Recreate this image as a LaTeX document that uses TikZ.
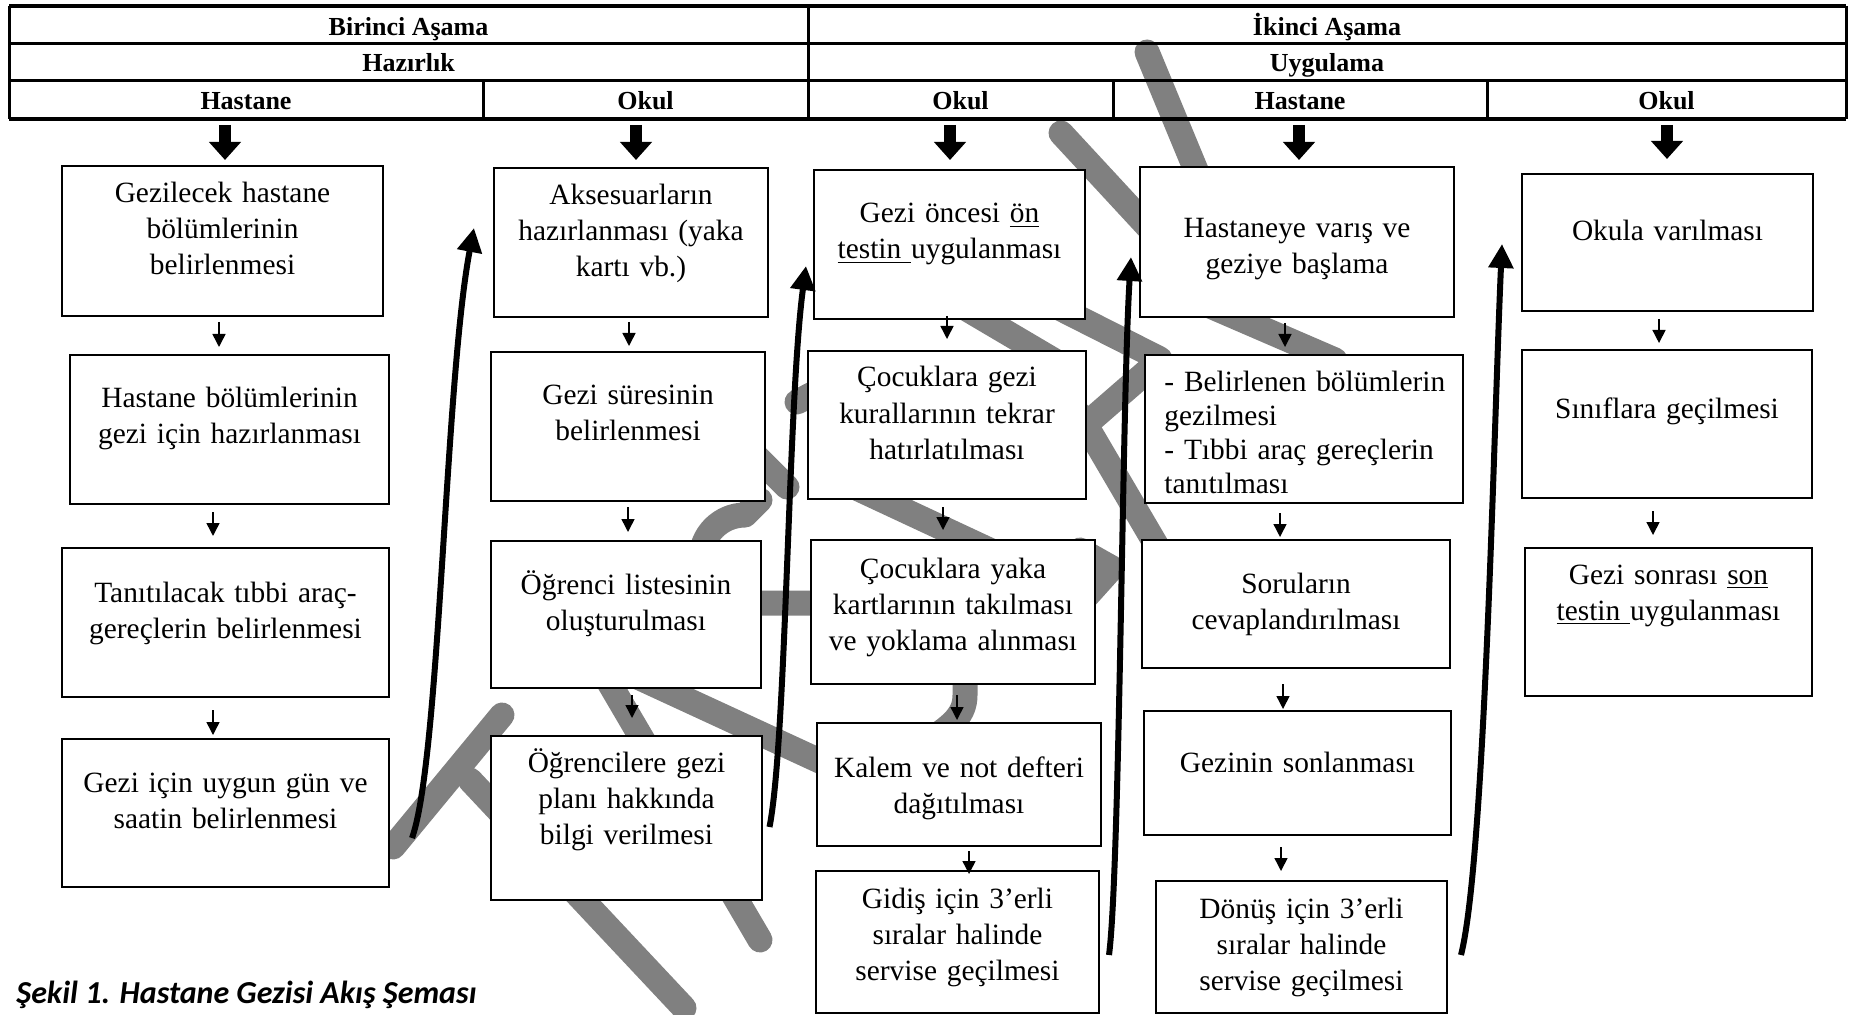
\documentclass[tikz,border=0pt]{standalone}
\usepackage{fontspec}
\setmainfont{Liberation Serif}
\newfontfamily\capfont{Carlito}
\usetikzlibrary{arrows.meta,calc}
\tikzset{
  wm/.style={draw=gray, line width=12.5pt, line cap=round, line join=round},
  hline/.style={line width=1.5pt},
  hthick/.style={line width=2pt},
  box/.style={draw, fill=white, line width=1.1pt, inner sep=0pt, outer sep=0pt, anchor=north west},
  txt/.style={inner sep=0pt, align=center, font=\fontsize{14.7pt}{18pt}\selectfont, anchor=base},
  htxt/.style={inner sep=0pt, anchor=base, font=\fontsize{13pt}{15pt}\selectfont\bfseries},
  sarr/.style={line width=0.75pt, -{Triangle[length=6.5pt,width=6.5pt]}},
  carr/.style={line width=3pt, -{Triangle[length=12pt,width=12pt]}},
  barr/.style={line width=6pt, -{Triangle[length=9pt,width=15.5pt]}},
}
\newcommand\mkbox[5]{%
  \pgfmathsetmacro\bxw{(#4-#2)*0.5}%
  \pgfmathsetmacro\bxh{(#5-#3)*0.5}%
  \node[box, minimum width=\bxw pt, minimum height=\bxh pt] (#1) at (#2,#3) {};}
\begin{document}
\begin{tikzpicture}[x=0.5pt,y=-0.5pt]
\useasboundingbox (0,0) rectangle (1850,1015);

% watermark
\draw[wm] (393,847) -- (502,715);
\draw[wm] (470,780) -- (684,1008);
\draw[wm] (590,650) -- (760,940);
\draw[wm] (590,655) -- (850,775);
\draw[wm] (740,440) -- (787,487);
\draw[wm] (760,500) -- (745,515) arc[start angle=-90, end angle=-270, radius=44] -- (830,603);
\draw[wm] (965,670) -- (965,695) .. controls (965,715) and (952,725) .. (930,740);
\draw[wm] (1080,550) -- (1112,568) -- (1085,598);
\draw[wm] (960,305) -- (1060,364);
\draw[wm] (850,485) -- (1000,555);
\draw[wm] (1000,278) -- (1160,359);
\draw[wm] (1061,133) -- (1160,240);
\draw[wm] (1147,52) -- (1200,180);
\draw[wm] (1210,306) -- (1335,360);
\draw[wm] (1060,447) -- (1160,360);
\draw[wm] (1080,415) -- (1165,560);
\draw[wm] (797,402) -- (830,385);

% header table
\draw[hthick] (9,6) -- (1846,6);
\draw[hthick] (9,119) -- (1846,119);
\draw[hline] (9,6) -- (9,119);
\draw[hline] (1846,6) -- (1846,119);
\draw[hline] (9,44) -- (1846,44);
\draw[hline] (9,81) -- (1846,81);
\draw[hline] (808,6) -- (808,119);
\draw[hline] (483,81) -- (483,119);
\draw[hline] (1113,81) -- (1113,119);
\draw[hline] (1487,81) -- (1487,119);
\node[htxt] (hBir) at (408.5,36) {Birinci Aşama};
\node[htxt] (hIki) at (1327,36) {İkinci Aşama};
\node[htxt] (hHaz) at (408.5,72) {Hazırlık};
\node[htxt] (hUyg) at (1327,72) {Uygulama};
\node[htxt] (hHasA) at (246,110) {Hastane};
\node[htxt] (hOkA) at (645.5,110) {Okul};
\node[htxt] (hOkB) at (960.5,110) {Okul};
\node[htxt] (hHasB) at (1300,110) {Hastane};
\node[htxt] (hOkC) at (1666.5,110) {Okul};

% boxes
\mkbox{B1}{62}{166}{383}{316}
\mkbox{B2}{70}{355}{389}{504}
\mkbox{B3}{62}{548}{389}{697}
\mkbox{B4}{62}{739}{389}{887}
\mkbox{C1}{494}{168}{768}{317}
\mkbox{C2}{491}{352}{765}{501}
\mkbox{C3}{491}{541}{761}{688}
\mkbox{C4}{491}{736}{762}{900}
\mkbox{D1}{814}{170}{1085}{319}
\mkbox{D2}{808}{351}{1086}{499}
\mkbox{D3}{811}{540}{1095}{684}
\mkbox{D4}{817}{723}{1101}{846}
\mkbox{D5}{816}{871}{1099}{1013}
\mkbox{E1}{1140}{167}{1454}{317}
\mkbox{E2}{1145}{355}{1463}{503}
\mkbox{E3}{1142}{540}{1450}{668}
\mkbox{E4}{1144}{711}{1451}{835}
\mkbox{E5}{1156}{881}{1447}{1013}
\mkbox{F1}{1522}{174}{1813}{311}
\mkbox{F2}{1522}{350}{1812}{498}
\mkbox{F3}{1525}{548}{1812}{696}

% box texts
\node[txt, text width=158pt] (B1t) at (222.5,203) {Gezilecek hastane\\bölümlerinin\\belirlenmesi};
\node[txt, text width=157pt] (B2t) at (229.5,408) {Hastane bölümlerinin\\gezi için hazırlanması};
\node[txt, text width=161pt] (B3t) at (225.5,602) {Tanıtılacak tıbbi araç-\\gereçlerin belirlenmesi};
\node[txt, text width=161pt] (B4t) at (225.5,792) {Gezi için uygun gün ve\\saatin belirlenmesi};
\node[txt, text width=135pt] (C1t) at (631,205) {Aksesuarların\\hazırlanması (yaka\\kartı vb.)};
\node[txt, text width=135pt] (C2t) at (628,405) {Gezi süresinin\\belirlenmesi};
\node[txt, text width=133pt] (C3t) at (626,594) {Öğrenci listesinin\\oluşturulması};
\node[txt, text width=133pt] (C4t) at (626.5,772) {Öğrencilere gezi\\planı hakkında\\bilgi verilmesi};
\node[txt, text width=133pt] (D1t) at (949.5,223) {Gezi öncesi \underline{ön}\\\underline{testin\ }uygulanması};
\node[txt, text width=137pt] (D2t) at (947,387) {Çocuklara gezi\\kurallarının tekrar\\hatırlatılması};
\node[txt, text width=140pt] (D3t) at (953,578) {Çocuklara yaka\\kartlarının takılması\\ve yoklama alınması};
\node[txt, text width=140pt] (D4t) at (959,777) {Kalem ve not defteri\\dağıtılması};
\node[txt, text width=140pt] (D5t) at (957.5,908) {Gidiş için 3’erli\\sıralar halinde\\servise geçilmesi};
\node[txt, text width=155pt] (E1t) at (1297,238) {Hastaneye varış ve\\geziye başlama};
\node[txt, text width=150pt, align=left, anchor=base west, font=\fontsize{14.7pt}{16.85pt}\selectfont] (E2t) at (1164,392) {- Belirlenen bölümlerin\\gezilmesi\\- Tıbbi araç gereçlerin\\tanıtılması};
\node[txt, text width=152pt] (E3t) at (1296,593) {Soruların\\cevaplandırılması};
\node[txt, text width=152pt] (E4t) at (1297.5,772) {Gezinin sonlanması};
\node[txt, text width=144pt] (E5t) at (1301.5,918) {Dönüş için 3’erli\\sıralar halinde\\servise geçilmesi};
\node[txt, text width=143pt] (F1t) at (1667.5,241) {Okula varılması};
\node[txt, text width=143pt] (F2t) at (1667,419) {Sınıflara geçilmesi};
\node[txt, text width=141pt] (F3t) at (1668.5,584) {Gezi sonrası \underline{son}\\\underline{testin\ }uygulanması};

% small arrows
\draw[sarr] ([shift={(-3.5,6)}]B1.south) -- ([shift={(-10.5,-8)}]B2.north);
\draw[sarr] ([shift={(-16.5,8)}]B2.south) -- ([shift={(-12.5,-12)}]B3.north);
\draw[sarr] ([shift={(-12.5,13)}]B3.south) -- ([shift={(-12.5,-4)}]B4.north);
\draw[sarr] ([shift={(-2,5)}]C1.south) -- ([shift={(1,-6)}]C2.north);
\draw[sarr] ([shift={(0,6)}]C2.south) -- ([shift={(2,-9)}]C3.north);
\draw[sarr] ([shift={(6,7)}]C3.south) -- ([shift={(5.5,-18)}]C4.north);
\draw[sarr] ([shift={(-2.5,-3)}]D1.south) -- ([shift={(0,-12)}]D2.north);
\draw[sarr] ([shift={(-4,8)}]D2.south) -- ([shift={(-10,-10)}]D3.north);
\draw[sarr] ([shift={(4,11)}]D3.south) -- ([shift={(-2,-3)}]D4.north);
\draw[sarr] ([shift={(10,5)}]D4.south) -- ([shift={(11.5,3)}]D5.north);
\draw[sarr] ([shift={(-12,6)}]E1.south) -- ([shift={(-19,-8)}]E2.north);
\draw[sarr] ([shift={(-24,10)}]E2.south) -- ([shift={(-16,-3)}]E3.north);
\draw[sarr] ([shift={(-13,16)}]E3.south) -- ([shift={(-14.5,-2)}]E4.north);
\draw[sarr] ([shift={(-16.5,12)}]E4.south) -- ([shift={(-20.5,-10)}]E5.north);
\draw[sarr] ([shift={(-8.5,8)}]F1.south) -- ([shift={(-8,-7)}]F2.north);
\draw[sarr] ([shift={(-14,13)}]F2.south) -- ([shift={(-15.5,-13)}]F3.north);

% block arrows from header
\coordinate (aB) at (225,125);
\coordinate (aC) at (636,125);
\coordinate (aD) at (950,125);
\coordinate (aE) at (1299,125);
\coordinate (aF) at (1667,125);
\draw[barr, shorten >=3pt] (aB) -- (aB |- B1.north);
\draw[barr, shorten >=4pt] (aC) -- (aC |- C1.north);
\draw[barr, shorten >=5pt] (aD) -- (aD |- D1.north);
\draw[barr, shorten >=3.5pt] (aE) -- (aE |- E1.north);
\draw[barr, shorten >=7.5pt] (aF) -- (aF |- F1.north);

% curved arrows between columns
\draw[carr] ([shift={(23,25)}]B4.east) .. controls +(28,-78) and +(-29,152) .. ([shift={(-20,-14.5)}]C1.west);
\draw[carr] ([shift={(7.5,9)}]C4.east) .. controls +(17,-87) and +(-18,134) .. ([shift={(-8,21.5)}]D1.west);
\draw[carr] ([shift={(10,13)}]D5.east) .. controls +(11,-85) and +(-9,143) .. ([shift={(-9,15)}]E1.west);
\draw[carr] ([shift={(14,8)}]E5.east) .. controls +(24,-95) and +(-8,176) .. ([shift={(-20,1.5)}]F1.west);

% caption
\node[anchor=base west, inner sep=0pt, font=\capfont\bfseries\itshape\fontsize{16pt}{18pt}\selectfont] (cap) at (16,1003) {Şekil 1. Hastane Gezisi Akış Şeması};
\end{tikzpicture}
\end{document}
